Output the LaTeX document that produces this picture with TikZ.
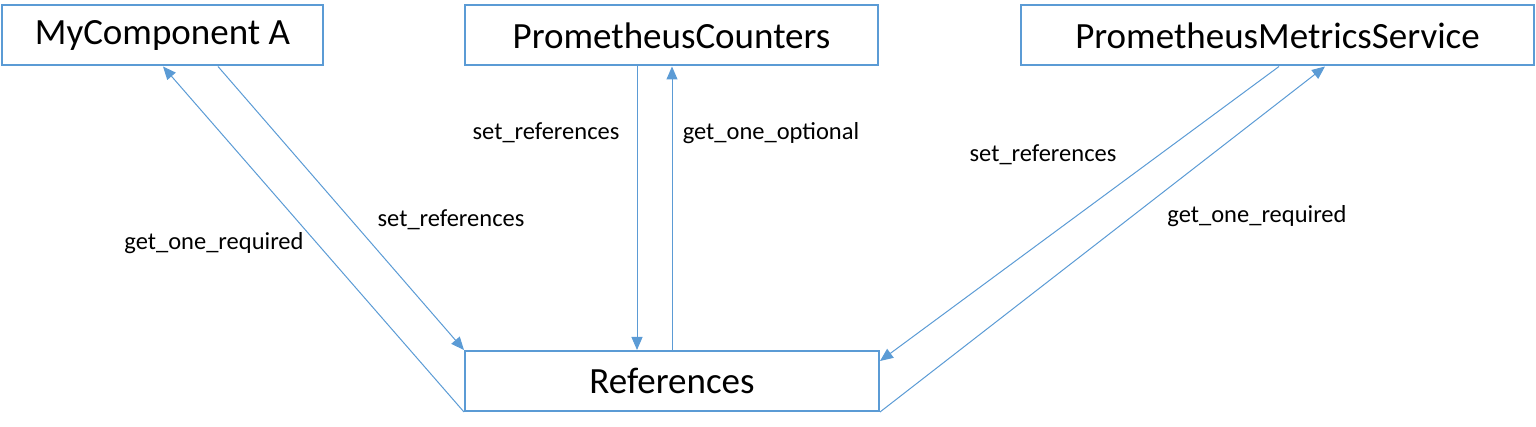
\documentclass[tikz,border=0pt]{standalone}
\usepackage{fontspec}
\setmainfont{Carlito}
\usetikzlibrary{arrows.meta}
\definecolor{lineblue}{RGB}{91,155,213}
\tikzset{
  box/.style={draw=lineblue, line width=2pt, fill=white, rectangle, inner sep=0pt,
    font=\fontsize{37}{40}\selectfont},
  conn/.style={draw=lineblue, line width=1pt},
  arr/.style={conn, -{Triangle[length=13pt,width=11pt]}},
  lbl/.style={font=\fontsize{24.5}{28}\selectfont, inner sep=0pt}
}
\begin{document}
\begin{tikzpicture}[x=1pt,y=-1pt]
\useasboundingbox (0,0) rectangle (1536,427);
\node[box, minimum width=321pt, minimum height=60pt] (mca) at (162.5,35.5) {MyComponent A};
\node[box, minimum width=413pt, minimum height=60pt] (pc) at (671.5,35.5) {PrometheusCounters};
\node[box, minimum width=513pt, minimum height=60pt] (pms) at (1277.5,35.5) {PrometheusMetricsService};
\node[box, minimum width=414pt, minimum height=60pt] (ref) at (672,381) {References};

% left pair
\draw[arr] (ref.south west) -- ([xshift=0.5pt]mca.south);
\draw[arr] ([xshift=55.5pt]mca.south) -- (ref.north west);
% middle pair
\draw[arr] ([xshift=-34.5pt]pc.south) -- ([xshift=-35pt]ref.north);
\draw[arr] (ref.north) -- ([xshift=0.5pt]pc.south);
% right pair
\draw[arr] ([xshift=1.5pt]pms.south) -- ([yshift=20pt]ref.east);
\draw[arr] (ref.south east) -- ([xshift=47.5pt]pms.south);

% labels
\node[lbl] (l1) at (214,243) {get\_one\_required};
\node[lbl] (l2) at (451,220) {set\_references};
\node[lbl] (l3) at (546,133) {set\_references};
\node[lbl] (l4) at (771,133) {get\_one\_optional};
\node[lbl] (l5) at (1043,155) {set\_references};
\node[lbl] (l6) at (1257,216) {get\_one\_required};
\end{tikzpicture}
\end{document}
